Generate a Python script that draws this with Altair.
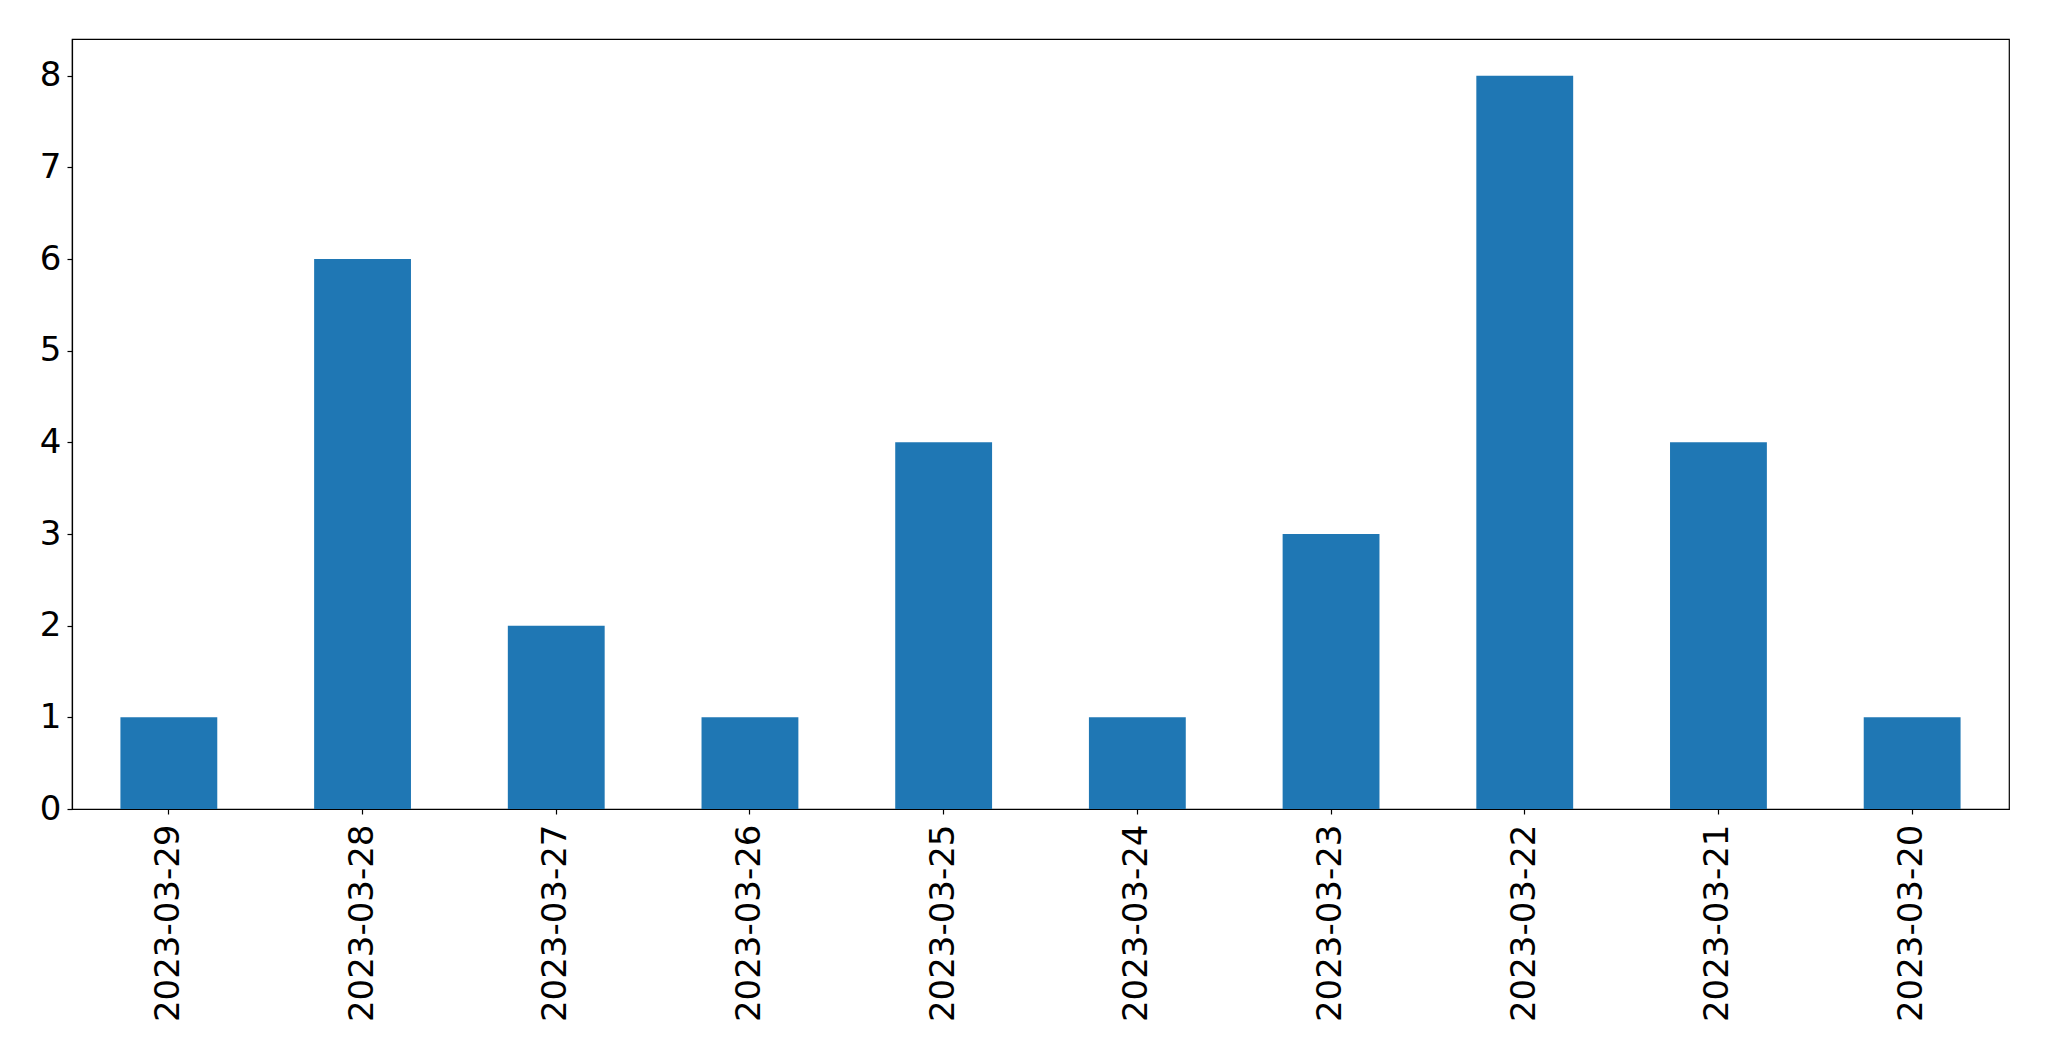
import altair as alt
import pandas as pd

dates = ["2023-03-29", "2023-03-28", "2023-03-27", "2023-03-26", "2023-03-25",
         "2023-03-24", "2023-03-23", "2023-03-22", "2023-03-21", "2023-03-20"]
counts = [1, 6, 2, 1, 4, 1, 3, 8, 4, 1]

df = pd.DataFrame({"date": dates, "count": counts})

font = "DejaVu Sans"

chart = alt.Chart(df).mark_bar(color="#1f77b4").encode(
    x=alt.X("date:N", sort=dates, title=None,
            scale=alt.Scale(paddingInner=0.5, paddingOuter=0.25),
            axis=alt.Axis(labelAngle=-90, labelFont=font, labelFontSize=34,
                          labelColor="black", tickColor="black", tickSize=5,
                          tickWidth=1.2, domainColor="black", domainWidth=1.2,
                          labelPadding=10, labelLimit=0, grid=False)),
    y=alt.Y("count:Q", title=None,
            scale=alt.Scale(domain=[0, 8.4], nice=False),
            axis=alt.Axis(values=list(range(0, 9)), labelFont=font, labelFontSize=34,
                          labelColor="black", tickColor="black", tickSize=5,
                          tickWidth=1.2, domainColor="black", domainWidth=1.2,
                          labelPadding=6, grid=False, labelBaseline="middle")),
).properties(
    width=1937, height=770,
    autosize=alt.AutoSizeParams(type="none"),
    padding={"left": 64, "top": 31, "right": 30, "bottom": 230},
).configure(
    background="white"
).configure_view(
    stroke="black", strokeWidth=1.2
)

chart.save("out.html", embed_options={"renderer": "svg", "actions": False})
